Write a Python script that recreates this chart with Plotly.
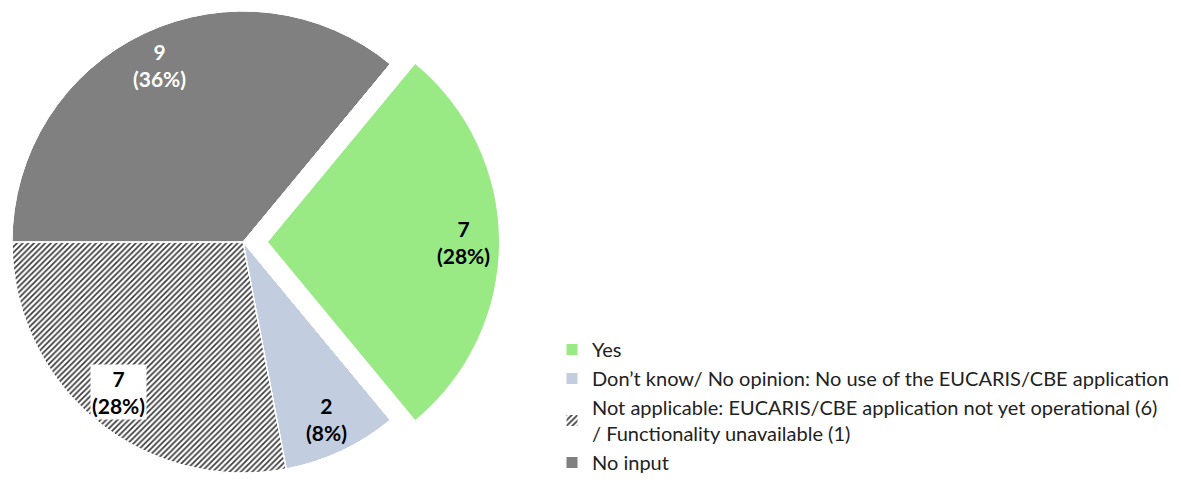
import math
import plotly.graph_objects as go

# Survey answers
labels = [
    "Yes",
    "Don’t know/ No opinion: No use of the EUCARIS/CBE application",
    "Not applicable: EUCARIS/CBE application not yet operational (6)<br>/ Functionality unavailable (1)",
    "No input",
]
values = [7, 2, 7, 9]

# Styling per slice
colors = ["#99EA85", "#C3CDE0", "#FFFFFF", "#808080"]
patterns = ["", "", "/", ""]
text_colors = ["#000000", "#000000", "#000000", "#FFFFFF"]
text_bg = [None, None, "#FFFFFF", None]

W, H = 1181, 483
CX, CY, R = 243, 242, 231      # pie centre / radius in px
SHIFT = 25                     # explode offset of the "Yes" slice (px)
ROTATION = 39.6                # start angle of first slice, clockwise from 12 o'clock
LABEL_R = 0.845                # radial position of slice labels (fraction of radius)

total = sum(values)
CLEAR = "rgba(0,0,0,0)"


def domain(dx=0):
    return dict(
        x=[(CX - R + dx) / W, (CX + R + dx) / W],
        y=[1 - (CY + R) / H, 1 - (CY - R) / H],
    )


common = dict(
    labels=labels,
    values=values,
    sort=False,
    direction="clockwise",
    rotation=ROTATION,
    textinfo="none",
    hoverinfo="label+value+percent",
)

fig = go.Figure()

# Full pie (also feeds the legend)
fig.add_trace(go.Pie(
    **common,
    domain=domain(),
    marker=dict(
        colors=colors,
        line=dict(color="white", width=1),
        pattern=dict(shape=patterns, fgcolor="#3a3a3a", bgcolor="white",
                     size=4, solidity=0.42),
    ),
    showlegend=True,
))

# Blank out the un-exploded "Yes" wedge
fig.add_trace(go.Pie(
    **common,
    domain=domain(),
    marker=dict(colors=["white", CLEAR, CLEAR, CLEAR],
                line=dict(color="white", width=1)),
    showlegend=False,
))

# Exploded "Yes" wedge
fig.add_trace(go.Pie(
    **common,
    domain=domain(SHIFT),
    marker=dict(colors=[colors[0], CLEAR, CLEAR, CLEAR],
                line=dict(width=0)),
    showlegend=False,
))

# Slice labels: count and share
cum = 0
for i, v in enumerate(values):
    theta = math.radians(ROTATION + 360 * (cum + v / 2) / total)
    cum += v
    cx = CX + (SHIFT if i == 0 else 0)
    px = cx + LABEL_R * R * math.sin(theta)
    py = CY - LABEL_R * R * math.cos(theta)
    pct = round(100 * v / total)
    fig.add_annotation(
        x=px / W, y=1 - py / H, xref="paper", yref="paper",
        xanchor="center", yanchor="middle",
        text=f"{v}<br>({pct}%)",
        showarrow=False,
        font=dict(family="Lato", size=21, color=text_colors[i], weight=700),
        bgcolor=text_bg[i],
        borderpad=1,
        align="center",
    )

fig.update_layout(
    width=W, height=H,
    margin=dict(l=0, r=0, t=0, b=0),
    paper_bgcolor="white",
    plot_bgcolor="white",
    legend=dict(
        x=552 / W, xanchor="left",
        y=1 - 330 / H, yanchor="top",
        font=dict(family="Lato", size=20, color="#222222"),
        bgcolor="rgba(0,0,0,0)",
        traceorder="normal",
    ),
)

fig.write_html("out.html")
